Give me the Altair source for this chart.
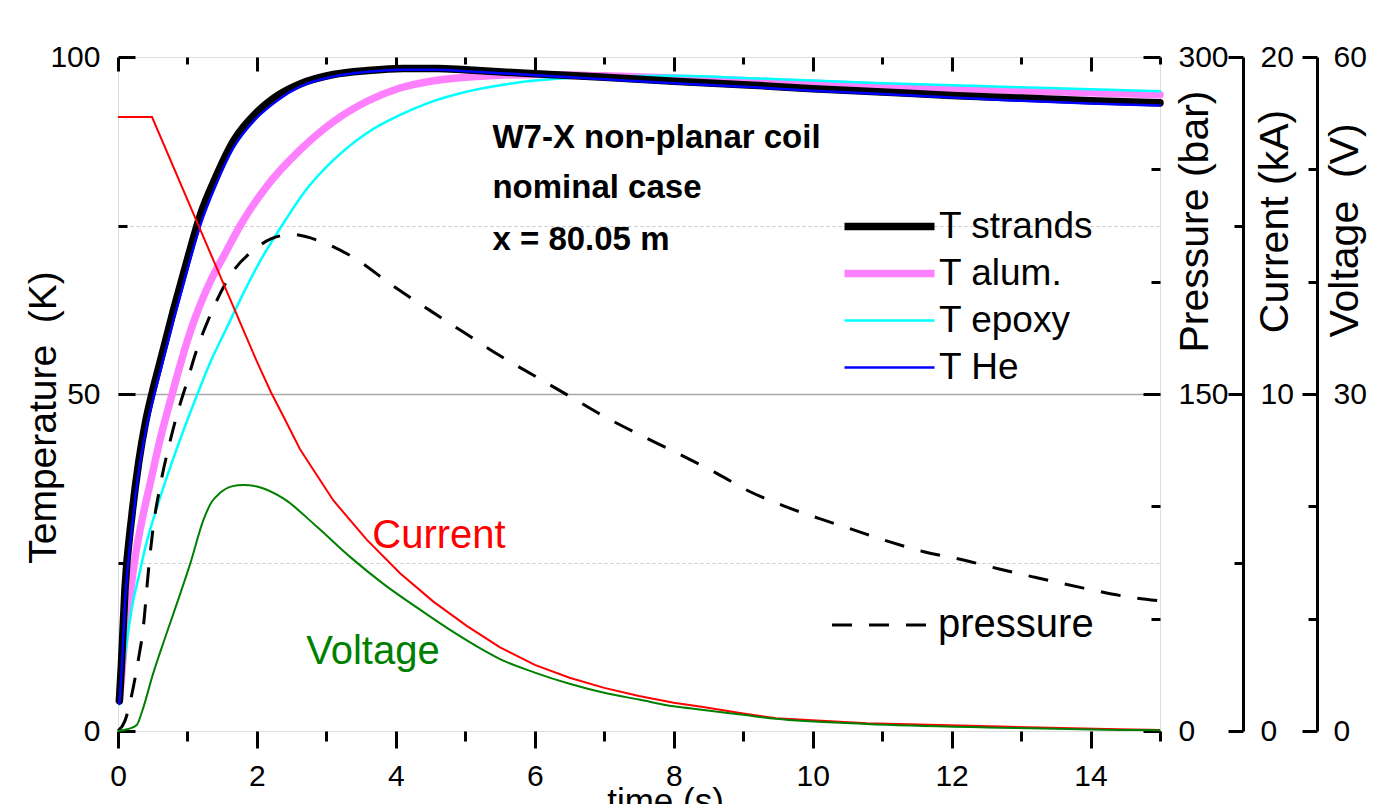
import altair as alt
import pandas as pd

FONT = "Liberation Sans"
W, H = 1042, 674

# ---------------- data ----------------
t_strands = [0.02, 0.05, 0.1, 0.2, 0.3, 0.4, 0.5, 0.6, 0.8, 1.0, 1.2, 1.4, 1.66, 2.0, 2.3, 2.62, 3.1, 3.6, 4.1, 4.6, 5.0, 6.0, 7.0, 8.0, 9.0, 10.0, 11.0, 12.0, 13.0, 14.0, 15.0]
T_strands = [4.5, 10, 21, 32, 40, 46, 50.5, 54.5, 62.5, 70, 77, 82, 87.5, 91.8, 94.3, 96, 97.4, 98.0, 98.3, 98.3, 98.1, 97.5, 97.0, 96.4, 95.9, 95.3, 94.8, 94.3, 93.9, 93.5, 93.2]

t_he = [0.02, 0.05, 0.1, 0.2, 0.3, 0.4, 0.5, 0.6, 0.8, 1.0, 1.2, 1.4, 1.66, 2.0, 2.3, 2.62, 3.1, 3.6, 4.1, 4.6, 5.0, 6.0, 7.0, 8.0, 9.0, 10.0, 11.0, 12.0, 13.0, 14.0, 15.0]
T_he = [4, 8.5, 19, 30, 38.5, 44.5, 49, 53, 61, 68.5, 75.5, 80.8, 86.5, 91, 93.6, 95.6, 97.1, 97.8, 98.1, 98.1, 97.9, 97.3, 96.7, 96.1, 95.6, 95.0, 94.5, 94.0, 93.5, 93.1, 92.8]

t_alum = [0.02, 0.05, 0.1, 0.17, 0.25, 0.36, 0.48, 0.6, 0.78, 0.9, 1.1, 1.32, 1.55, 1.76, 2.14, 2.62, 3.1, 3.58, 4.06, 4.5, 5.0, 5.5, 6.0, 7.0, 8.0, 9.0, 10.0, 11.0, 12.0, 13.0, 14.0, 15.0]
T_alum = [4.5, 8, 14, 20, 26, 32, 37.5, 43, 50, 54.5, 61, 66.5, 71, 75, 80.8, 86.2, 90.4, 93.4, 95.4, 96.4, 97.0, 97.3, 97.4, 97.2, 96.9, 96.5, 96.1, 95.7, 95.3, 95.0, 94.7, 94.4]

t_epoxy = [0.02, 0.08, 0.15, 0.22, 0.3, 0.4, 0.58, 0.84, 1.11, 1.32, 1.55, 1.76, 2.05, 2.36, 2.7, 3.1, 3.58, 4.06, 4.5, 5.0, 5.5, 6.0, 6.5, 7.0, 8.0, 9.0, 10.0, 11.0, 12.0, 13.0, 14.0, 15.0]
T_epoxy = [4, 9.5, 15, 19.4, 23, 27.5, 33.8, 41.7, 49.1, 54.5, 59.5, 64, 69.8, 75, 80.2, 84.7, 88.7, 91.4, 93.3, 94.8, 95.8, 96.5, 96.9, 97.1, 97.2, 96.9, 96.5, 96.1, 95.8, 95.5, 95.2, 94.9]

t_pressure = [0.0, 0.1, 0.15, 0.22, 0.3, 0.36, 0.44, 0.51, 0.6, 0.75, 0.87, 1.0, 1.1, 1.32, 1.61, 1.95, 2.2, 2.5, 2.91, 3.43, 3.92, 4.5, 5.0, 5.5, 6.0, 6.5, 7.0, 7.5, 8.0, 8.6, 9.1, 9.6, 10.1, 10.6, 11.1, 11.6, 12.2, 12.7, 13.2, 13.9, 14.6, 15.0]
p_bar = [0, 4.5, 9.6, 19.5, 33, 45, 72, 91.5, 108, 129, 143, 156, 166.5, 184.5, 202.5, 214, 219, 221, 218, 210, 199, 187, 177, 167, 158, 149, 140, 132, 124.5, 115, 106.5, 100, 94.5, 89.4, 84.3, 79.8, 75.9, 72, 68.4, 63.6, 59.4, 57.9]

t_current = [0, 0.49, 1.13, 1.6, 2.0, 2.2, 2.4, 2.62, 3.1, 3.58, 4.06, 4.54, 5.02, 5.5, 6.0, 6.5, 7.0, 7.5, 8.0, 8.4, 9.0, 9.47, 10.78, 12.7, 14.4, 15.0]
i_ka = [18.22, 18.22, 15.14, 12.88, 10.96, 10.06, 9.26, 8.36, 6.84, 5.68, 4.68, 3.84, 3.12, 2.48, 1.96, 1.58, 1.28, 1.04, 0.84, 0.72, 0.52, 0.38, 0.23, 0.13, 0.05, 0.03]

t_voltage = [0, 0.15, 0.27, 0.35, 0.5, 0.7, 0.9, 1.04, 1.23, 1.35, 1.47, 1.65, 1.8, 2.04, 2.38, 2.86, 3.34, 3.82, 4.3, 4.78, 5.26, 5.5, 6.0, 6.5, 7.0, 7.5, 8.0, 8.4, 9.0, 9.47, 10.78, 12.7, 14.4, 15.0]
u_volt = [0, 0.18, 0.54, 1.8, 5.0, 8.7, 12.3, 14.9, 18.8, 20.4, 21.2, 21.8, 21.9, 21.7, 20.7, 18.2, 15.5, 13.1, 11.0, 9.0, 7.2, 6.4, 5.2, 4.2, 3.4, 2.8, 2.2, 1.9, 1.44, 1.08, 0.63, 0.3, 0.09, 0.06]

series_order = ["T strands", "T alum.", "T epoxy", "T He"]
series_colors = ["#000000", "#ff80ff", "#00ffff", "#0000ff"]
series_widths = [7.5, 7.5, 2.5, 2.5]

note_lines = ["W7-X non-planar coil", "nominal case", "x = 80.05 m"]
note_t = [5.39, 5.39, 5.39]
note_T = [86.5, 79.1, 71.4]

label_text = ["Current", "Voltage"]
label_t = [3.66, 2.71]
label_T = [27.1, 9.9]
label_color = ["#ff0000", "#008000"]

x_major = [0, 2, 4, 6, 8, 10, 12, 14]
x_minor = [1, 3, 5, 7, 9, 11, 13, 15]

# ---------------- helpers ----------------
def X(axis=None):
    return alt.X("t:Q", scale=alt.Scale(domain=[0, 15], nice=False, zero=False), axis=axis)

def Y(field, dom, axis=None):
    return alt.Y(f"{field}:Q", scale=alt.Scale(domain=dom, nice=False, zero=False), axis=axis)

def tick_axis(orient, offset, values, size):
    return alt.Axis(orient=orient, offset=offset, values=values, ticks=True, tickSize=size,
                    tickWidth=3, tickColor="black", labels=False, domain=False, grid=False,
                    title=None)

def lab_axis(orient, values, pad, offset=0, domain=False, title=None, tsize=35, tx=0, ty=0):
    kw = dict(orient=orient, offset=offset, values=values, ticks=False, tickSize=0,
              labelPadding=pad, labelFontSize=30, labelFont=FONT, labelColor="black",
              labelFlush=False, labelOverlap=False,
              domain=domain, domainColor="black", domainWidth=3, grid=False)
    if title:
        kw.update(title=title, titleFont=FONT, titleFontSize=tsize, titleFontWeight="normal",
                  titleColor="black", titleAngle=270, titleX=tx, titleY=ty,
                  titleAlign="center", titleBaseline="alphabetic", titleLimit=600)
    else:
        kw.update(title=None)
    return alt.Axis(**kw)

def axis_only(dom, yaxis, xaxis=None):
    df = pd.DataFrame({"t": [0, 15], "v": dom})
    return alt.Chart(df).mark_point(opacity=0).encode(x=X(xaxis), y=Y("v", dom, yaxis))

# ---------------- axes-only layers ----------------
grid50 = axis_only([0, 100], alt.Axis(orient="left", values=[50], ticks=False, labels=False,
                                      domain=False, grid=True, gridColor="#a8a8a8",
                                      gridWidth=1.5, title="Temperature\u00a0 (K)",
                                      titleFont=FONT, titleFontSize=39, titleFontWeight="normal",
                                      titleColor="black", titleAngle=270, titleX=-63,
                                      titleY=360, titleAlign="center",
                                      titleBaseline="alphabetic", titleLimit=600))
grid_dot = axis_only([0, 100], alt.Axis(orient="left", values=[25, 75], ticks=False, labels=False,
                                        domain=False, grid=True, gridColor="#c8c8c8",
                                        gridWidth=1, gridDash=[3, 3], title=None),
                     tick_axis("bottom", -H, x_major, 14))
T_maj = axis_only([0, 100], tick_axis("right", -W, [0, 50, 100], 17), tick_axis("bottom", -H, x_minor, 7))
T_min = axis_only([0, 100], tick_axis("right", -W, [25, 75], 9), tick_axis("bottom", 0, x_minor, 10))
P_maj = axis_only([0, 300], tick_axis("left", -W, [0, 150, 300], 17))
P_min = axis_only([0, 300], tick_axis("left", -W, [50, 100, 200, 250], 9))
I_maj = axis_only([0, 20], tick_axis("left", -(W + 83), [0, 10, 20], 15))
I_min = axis_only([0, 20], tick_axis("left", -(W + 83), [5, 15], 9))
V_maj = axis_only([0, 60], tick_axis("left", -(W + 157), [0, 30, 60], 15))
V_min = axis_only([0, 60], tick_axis("left", -(W + 157), [10, 20, 40, 50], 9))

# ---------------- temperature lines ----------------
x_bottom = alt.Axis(orient="bottom", values=x_major, tickSize=17, tickWidth=3, tickColor="black",
                    labelFontSize=30, labelFont=FONT, labelColor="black", labelPadding=13,
                    labelFlush=False, labelOverlap=False, domain=False, grid=False,
                    title="time (s)", titleFont=FONT, titleFontSize=35, titleFontWeight="normal",
                    titleColor="black", titleX=547, titleY=81, titleAlign="center",
                    titleBaseline="alphabetic")
y_temp = lab_axis("left", [0, 50, 100], 18)

t_legend = alt.Legend(orient="none", legendX=713, legendY=151, title=None, labelFont=FONT,
                      labelFontSize=37, labelColor="black", symbolType="M-1,0H17",
                      symbolSize=100, labelOffset=71, rowPadding=9, padding=0)

temp_layers = []
for name, ts, vs in [("T alum.", t_alum, T_alum), ("T epoxy", t_epoxy, T_epoxy),
                     ("T strands", t_strands, T_strands), ("T He", t_he, T_he)]:
    df = pd.DataFrame({"t": ts, "T": vs, "series": name})
    temp_layers.append(
        alt.Chart(df).mark_line(interpolate="monotone", strokeCap="round",
                                strokeJoin="round").encode(
            x=X(x_bottom),
            y=Y("T", [0, 100], y_temp),
            color=alt.Color("series:N", scale=alt.Scale(domain=series_order, range=series_colors),
                            legend=t_legend),
            strokeWidth=alt.StrokeWidth("series:N",
                                        scale=alt.Scale(type="ordinal", domain=series_order,
                                                        range=series_widths),
                                        legend=t_legend),
        )
    )
temps = alt.layer(*temp_layers)

# ---------------- pressure / current / voltage ----------------
p_df = pd.DataFrame({"t": t_pressure, "p": p_bar, "name": "pressure"})
pressure = alt.Chart(p_df).mark_line(color="black", strokeWidth=3, interpolate="monotone").encode(
    x=X(),
    y=Y("p", [0, 300], lab_axis("right", [0, 150, 300], 18, title="Pressure (bar)",
                                tsize=41, tx=47, ty=164)),
    strokeDash=alt.StrokeDash("name:N", scale=alt.Scale(domain=["pressure"], range=[[20, 17]]),
                              legend=alt.Legend(orient="none", legendX=699, legendY=548,
                                                title=None, labelFont=FONT, labelFontSize=40,
                                                labelColor="black", symbolType="M-1,0H18",
                                                symbolSize=100, symbolStrokeColor="black",
                                                symbolStrokeWidth=3, labelOffset=81,
                                                padding=0)),
)

i_df = pd.DataFrame({"t": t_current, "i": i_ka})
current = alt.Chart(i_df).mark_line(color="#ff0000", strokeWidth=2).encode(
    x=X(),
    y=Y("i", [0, 20], lab_axis("right", [0, 10, 20], 17, offset=83, domain=True,
                               title="Current (kA)", tsize=41, tx=44, ty=164)),
)

u_df = pd.DataFrame({"t": t_voltage, "u": u_volt})
voltage = alt.Chart(u_df).mark_line(color="#008000", strokeWidth=2, interpolate="monotone").encode(
    x=X(),
    y=Y("u", [0, 60], lab_axis("right", [0, 30, 60], 16, offset=157, domain=True,
                               title="Voltage\u00a0 (V)", tsize=41, tx=40, ty=173)),
)

# ---------------- annotations ----------------
n_df = pd.DataFrame({"t": note_t, "T": note_T, "text": note_lines})
notes = alt.Chart(n_df).mark_text(align="left", baseline="alphabetic", font=FONT, fontSize=33,
                                  fontWeight="bold", color="black").encode(
    x=X(), y=Y("T", [0, 100]), text="text:N")

l_df = pd.DataFrame({"t": label_t, "T": label_T, "text": label_text, "c": label_color})
labels = alt.Chart(l_df).mark_text(align="left", baseline="alphabetic", font=FONT,
                                   fontSize=40).encode(
    x=X(), y=Y("T", [0, 100]), text="text:N", color=alt.Color("c:N", scale=None))

chart = alt.layer(
    grid50, grid_dot, T_maj, T_min, P_maj, P_min, I_maj, I_min, V_maj, V_min,
    temps, pressure, current, voltage, notes, labels
).resolve_scale(
    x="independent", y="independent"
).properties(
    width=W, height=H,
    padding={"left": 110, "top": 49, "right": 207, "bottom": 100},
    autosize=alt.AutoSizeParams(type="none"),
).configure_view(
    stroke="black", strokeWidth=3
).configure(
    background="white"
)

chart.save("out.html", embed_options={"renderer": "svg", "actions": False})
